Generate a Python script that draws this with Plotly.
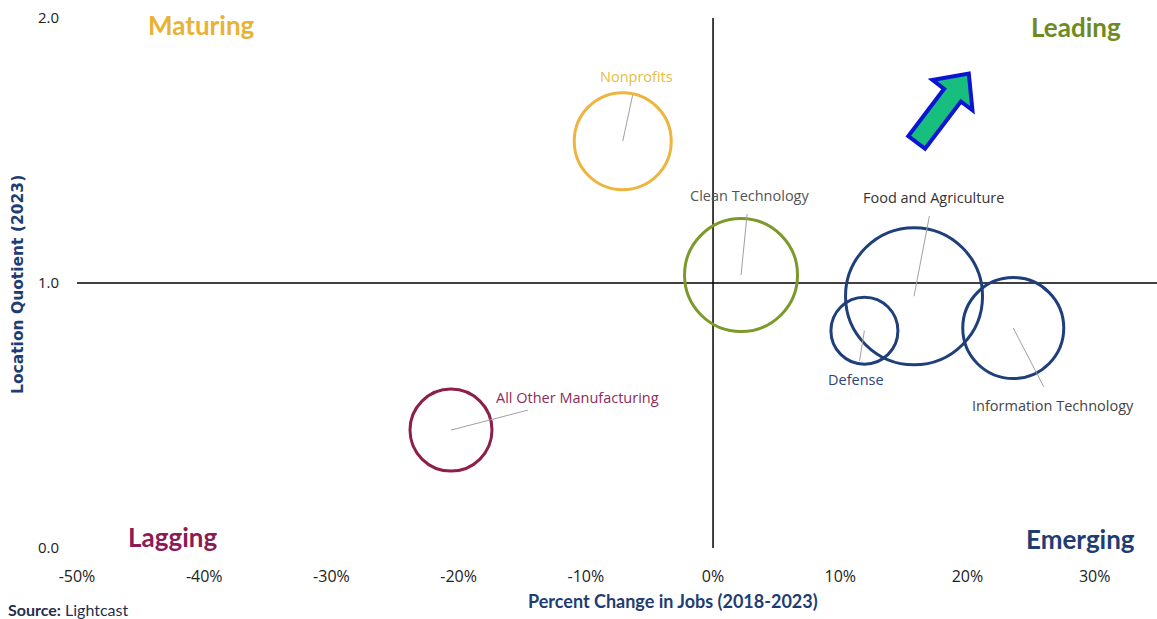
import plotly.graph_objects as go
import numpy as np

# ---------------- data ----------------
clusters = ["Nonprofits", "Clean Technology", "Food and Agriculture", "Defense",
            "Information Technology", "All Other Manufacturing"]
pct_change = [-7.1, 2.2, 15.8, 11.9, 23.6, -20.6]        # % change in jobs 2018-2023
location_quotient = [1.535, 1.03, 0.95, 0.82, 0.83, 0.445]  # LQ 2023
bubble_size = [97, 113, 137, 67, 101, 82]                  # relative cluster size
x_ticks = [-50, -40, -30, -20, -10, 0, 10, 20, 30]
x_tick_labels = ["-50%", "-40%", "-30%", "-20%", "-10%", "0%", "10%", "20%", "30%"]
y_ticks = [0, 1, 2]
y_tick_labels = ["0.0", "1.0", "2.0"]

# ---------------- styles ----------------
ring_colors = ["#EDB43E", "#7C9A2A", "#1F3F7A", "#1F3F7A", "#1F3F7A", "#8E1F4B"]
label_colors = ["#E5BC45", "#555555", "#333333", "#2A4580", "#444444", "#8E2A5C"]
label_offsets = [(14, -65), (8, -80), (19, -99), (-8, 49), (40, 77), (127, -33)]

X_RANGE = [-50, 34.9]
Y_RANGE = [0, 2]
W, H = 1157, 619
ML, MR, MT, MB = 77, 0, 18, 71
FONT = "Open Sans"
BOLD = "Lato"

pw = W - ML - MR
ph = H - MT - MB

def px_to_paper(sx, sy):
    """screen pixel -> paper coordinates"""
    return (sx - ML) / pw, 1 - (sy - MT) / ph

fig = go.Figure()
fig.add_trace(go.Scatter(
    x=pct_change, y=location_quotient, mode="markers",
    marker=dict(size=bubble_size, sizemode="diameter", color="rgba(255,255,255,0)",
                opacity=1, line=dict(color=ring_colors, width=3)),
    hoverinfo="text", text=clusters, showlegend=False,
))

# quadrant lines
fig.add_shape(type="line", x0=X_RANGE[0], x1=X_RANGE[1], y0=1, y1=1,
              line=dict(color="black", width=1.5), layer="below")
fig.add_shape(type="line", x0=0, x1=0, y0=Y_RANGE[0], y1=Y_RANGE[1],
              line=dict(color="black", width=1.5), layer="below")

# bubble labels with leader lines
for name, xv, yv, col, (ax, ay) in zip(clusters, pct_change, location_quotient,
                                       label_colors, label_offsets):
    fig.add_annotation(x=xv, y=yv, text=name, showarrow=True, arrowhead=0,
                       arrowwidth=1, arrowcolor="#A0A0A0", ax=ax, ay=ay,
                       startstandoff=8,
                       font=dict(family=FONT, size=14.5, color=col))

# quadrant titles
quad = [("Maturing", -40.25, 1.975, "#E9B232"),
        ("Leading", 28.5, 1.967, "#6F8A1F"),
        ("Lagging", -42.5, 0.04, "#8B1B52"),
        ("Emerging", 28.9, 0.035, "#1F3D72")]
for t, xv, yv, c in quad:
    fig.add_annotation(x=xv, y=yv, text=f"<b>{t}</b>", showarrow=False,
                       font=dict(family=BOLD, size=26, color=c))

# decorative arrow (screen pixel geometry -> data coords)
def to_data(sx, sy):
    xd = X_RANGE[0] + (sx - ML) / pw * (X_RANGE[1] - X_RANGE[0])
    yd = Y_RANGE[1] - (sy - MT) / ph * (Y_RANGE[1] - Y_RANGE[0])
    return xd, yd

tip = np.array([968.8, 73.6]); tail = np.array([916.7, 142.4])
u = (tip - tail) / np.linalg.norm(tip - tail)
n = np.array([-u[1], u[0]])
base = tip - 27 * u
pts = [tip, base + 25 * n, base + 10.5 * n, tail + 10.5 * n, tail - 10.5 * n,
       base - 10.5 * n, base - 25 * n]
path = ""
for i, p in enumerate(pts):
    xd, yd = to_data(*p)
    path += ("M" if i == 0 else "L") + f"{xd:.4f},{yd:.4f} "
path += "Z"
fig.add_shape(type="path", path=path, xref="x", yref="y",
              fillcolor="#17BE7E", line=dict(color="#0A14D2", width=4))

# axis titles & source
ax_x, ax_y = px_to_paper(673, 601)
fig.add_annotation(xref="paper", yref="paper", x=ax_x, y=ax_y, xanchor="center",
                   yanchor="middle",
                   text="<b>Percent Change in Jobs (2018-2023)</b>", showarrow=False,
                   font=dict(family=BOLD, size=18, color="#1F3D72"))
yt_x, yt_y = px_to_paper(18, 285)
fig.add_annotation(xref="paper", yref="paper", x=yt_x, y=yt_y, xanchor="center",
                   yanchor="middle",
                   text="<b>Location Quotient (2023)</b>", showarrow=False, textangle=-90,
                   font=dict(family="DejaVu Sans", size=15.5, color="#1F3D72"))
s_x, s_y = px_to_paper(6, 609)
fig.add_annotation(xref="paper", yref="paper", x=s_x, xanchor="left", y=s_y,
                   yanchor="middle",
                   text="<b>Source:</b> Lightcast", showarrow=False,
                   font=dict(family=BOLD, size=16, color="#1F2F50"))

fig.update_xaxes(range=X_RANGE, tickvals=x_ticks, ticktext=x_tick_labels,
                 showgrid=False, zeroline=False, showline=False,
                 ticks="outside", ticklen=14, tickcolor="rgba(0,0,0,0)",
                 tickfont=dict(family=FONT, size=16, color="#222222"))
fig.update_yaxes(range=Y_RANGE, tickvals=y_ticks, ticktext=y_tick_labels,
                 showgrid=False, zeroline=False, showline=False,
                 ticks="outside", ticklen=14, tickcolor="rgba(0,0,0,0)",
                 tickfont=dict(family=FONT, size=15, color="#222222"))

fig.update_layout(width=W, height=H, margin=dict(l=ML, r=MR, t=MT, b=MB),
                  plot_bgcolor="white", paper_bgcolor="white")
fig.write_html("out.html", config={"displayModeBar": False},
               post_script="document.body.style.margin='0';"
                           "document.body.style.overflow='hidden';"
                           "document.documentElement.style.overflow='hidden';")
